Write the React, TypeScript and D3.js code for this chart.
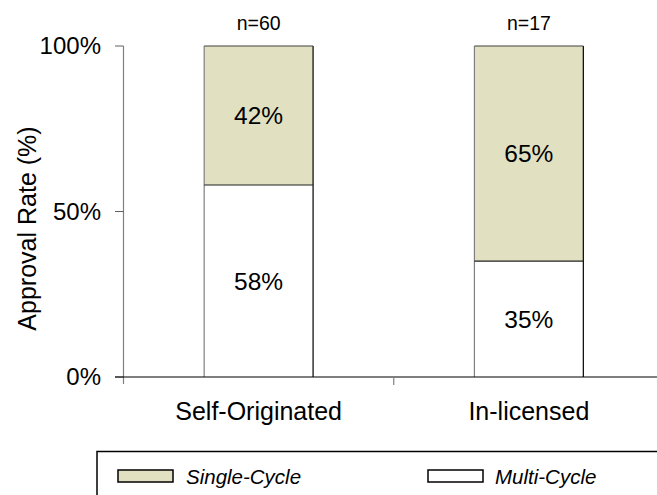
import React from "react";
import * as d3 from "d3";

const categories = ["Self-Originated", "In-licensed"];
const sampleSizes = ["n=60", "n=17"];
const multiCycle = [58, 35];
const singleCycle = [42, 65];
const yTicks = [0, 50, 100];
const legendLabels = ["Single-Cycle", "Multi-Cycle"];

const W = 657;
const H = 495;
const FILL = "#E1E1C1";
const FONT = "Liberation Sans, Arial, sans-serif";

export default function App() {
  const x = d3.scaleBand<string>().domain(categories).range([123.5, 664]).padding(0);
  const y = d3.scaleLinear().domain([0, 100]).range([377, 46]);
  const barW = x.bandwidth() * 0.403;

  return (
    <svg width={W} height={H} style={{ position: "absolute", left: 0, top: 0 }} fontFamily={FONT}>
      <rect x={0} y={0} width={W} height={H} fill="#fff" />
      {/* y axis */}
      <line x1={123.5} x2={123.5} y1={46} y2={384} stroke="#808080" strokeWidth={1.2} />
      {yTicks.map((t) => (
        <g key={t}>
          <line x1={115} x2={123.5} y1={y(t)} y2={y(t)} stroke="#606060" strokeWidth={1} />
          <text x={101} y={y(t)} dy="0.35em" textAnchor="end" fontSize={24} fill="#000">
            {t}%
          </text>
        </g>
      ))}
      <text
        transform={`translate(36,${y(50) + 17}) rotate(-90)`}
        textAnchor="middle"
        fontSize={25}
        fill="#000"
      >
        Approval Rate (%)
      </text>
      {/* bars */}
      {categories.map((c, i) => {
        const cx = (x(c) as number) + x.bandwidth() / 2;
        const x0 = cx - barW / 2;
        const yMid = y(multiCycle[i]);
        return (
          <g key={c}>
            <rect x={x0} y={y(100)} width={barW} height={yMid - y(100)} fill={FILL} />
            <rect x={x0} y={yMid} width={barW} height={y(0) - yMid} fill="#fff" />
            <line x1={x0} x2={x0} y1={y(100)} y2={y(0)} stroke="#808080" strokeWidth={1.2} />
            <line x1={x0 + barW} x2={x0 + barW} y1={y(100)} y2={y(0)} stroke="#000" strokeWidth={1.2} />
            <line x1={x0} x2={x0 + barW} y1={y(100)} y2={y(100)} stroke="#404040" strokeWidth={1.2} />
            <line x1={x0} x2={x0 + barW} y1={yMid} y2={yMid} stroke="#202020" strokeWidth={1.2} />
            <text x={cx} y={(y(100) + yMid) / 2} dy="0.35em" textAnchor="middle" fontSize={24.5}>
              {singleCycle[i]}%
            </text>
            <text x={cx} y={(yMid + y(0)) / 2} dy="0.35em" textAnchor="middle" fontSize={24.5}>
              {multiCycle[i]}%
            </text>
            <text x={cx} y={30} textAnchor="middle" fontSize={19.5}>
              {sampleSizes[i]}
            </text>
            <text x={cx} y={420} textAnchor="middle" fontSize={25}>
              {c}
            </text>
          </g>
        );
      })}
      {/* x axis baseline */}
      <line x1={115} x2={W} y1={y(0)} y2={y(0)} stroke="#000" strokeWidth={1.2} />
      <line
        x1={x(categories[1]) as number}
        x2={x(categories[1]) as number}
        y1={y(0)}
        y2={385}
        stroke="#808080"
        strokeWidth={1.2}
      />
      {/* legend */}
      <rect x={97} y={451.5} width={600} height={100} fill="none" stroke="#000" strokeWidth={1.5} />
      <rect x={118} y={470} width={55} height={12} fill={FILL} stroke="#000" strokeWidth={1.5} />
      <text x={186} y={484} fontSize={20.5} fontStyle="italic">
        {legendLabels[0]}
      </text>
      <rect x={428} y={470} width={55} height={12} fill="#fff" stroke="#000" strokeWidth={1.5} />
      <text x={495} y={484} fontSize={20.5} fontStyle="italic">
        {legendLabels[1]}
      </text>
    </svg>
  );
}
